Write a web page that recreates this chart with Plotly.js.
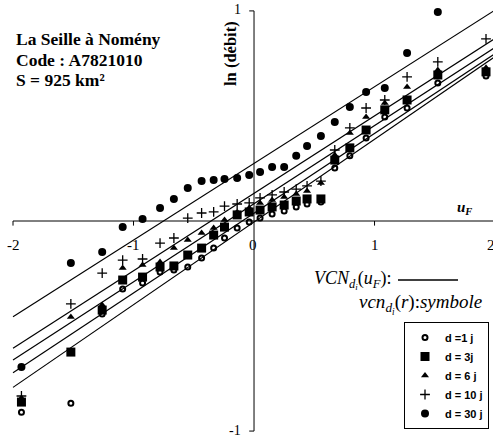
<!DOCTYPE html>
<html><head><meta charset="utf-8">
<script src="https://cdn.plot.ly/plotly-3.0.1.min.js"></script>
<style>html,body{margin:0;padding:0;background:#fff;} #chart{width:493px;height:438px;}</style>
</head><body><div id="chart"></div>
<script>
// Reduced variable u_F (x positions of the ranked sample)
const uF = [-1.93, -1.52, -1.26, -1.09, -0.925, -0.78, -0.665, -0.55, -0.435, -0.335, -0.245, -0.14, -0.04,
            0.05, 0.15, 0.25, 0.35, 0.44, 0.555, 0.67, 0.795, 0.93, 1.085, 1.27, 1.525, 1.925];
// ln(débit) observed, per duration
const vcn1  = [-0.910, -0.867, -0.443, -0.324, -0.295, -0.243, -0.233, -0.219, -0.176, -0.129, -0.081, -0.033, -0.005,
               0.014, 0.033, 0.048, 0.067, 0.081, 0.090, 0.252, 0.310, 0.395, 0.495, 0.538, 0.657, 0.690];
const vcn3  = [-0.862, -0.624, -0.424, -0.281, -0.267, -0.219, -0.214, -0.162, -0.129, -0.067, -0.029, 0.029, 0.043,
               0.052, 0.067, 0.076, 0.095, 0.105, 0.105, 0.290, 0.348, 0.433, 0.529, 0.576, 0.695, 0.710];
const vcn6  = [-0.843, -0.457, -0.400, -0.224, -0.210, -0.195, -0.129, -0.090, -0.057, -0.033, 0.005, 0.043, 0.062,
               0.086, 0.100, 0.114, 0.129, 0.143, 0.181, 0.314, 0.419, 0.495, 0.562, 0.638, 0.719, 0.729];
const vcn10 = [-0.833, -0.395, -0.248, -0.186, -0.181, -0.105, -0.081, 0.014, 0.038, 0.043, 0.071, 0.081, 0.086,
               0.110, 0.124, 0.138, 0.152, 0.167, 0.190, 0.338, 0.443, 0.538, 0.576, 0.686, 0.757, 0.867];
const vcn30 = [-0.695, -0.200, -0.148, -0.029, 0.010, 0.062, 0.105, 0.157, 0.190, 0.195, 0.200, 0.205, 0.219,
               0.233, 0.257, 0.257, 0.310, 0.357, 0.405, 0.471, 0.543, 0.614, 0.633, 0.800, 0.995, 1.120];
const seriesNames = ["d =1 j", "d = 3j", "d = 6 j", "d = 10 j", "d = 30 j"];
const seriesValues = [vcn1, vcn3, vcn6, vcn10, vcn30];
// Fitted lines VCN_di(u_F): values at u_F = -2 and u_F = 2
const lineX = [-2, 2];
const lineAtLeft  = [-0.792, -0.722, -0.662, -0.606, -0.456];
const lineAtRight = [0.783, 0.797, 0.826, 0.869, 1.004];
const xTickVals = [-2, -1, 0, 1, 2];
const xTickText = ["-2", "-1", "0", "1", "2"];
const yTickVals = [-1, 1];
const yTickText = ["-1", "1"];

const xRange = [-2.108, 1.983];
const yRange = [-1.033, 1.052];

const markerStyles = [
  {symbol: 'circle-open', size: 5, color: '#000', line: {color: '#000', width: 2}},
  {symbol: 'square', size: 9, color: '#000'},
  {symbol: 'triangle-up', size: 7, color: '#000'},
  {symbol: 'cross-thin', size: 7, color: '#000', line: {color: '#000', width: 1.3}},
  {symbol: 'circle', size: 8, color: '#000'}
];

const traces = [];
for (let i = 0; i < lineAtLeft.length; i++) {
  traces.push({x: lineX, y: [lineAtLeft[i], lineAtRight[i]], mode: 'lines',
    line: {color: '#000', width: 1.2}, showlegend: false, hoverinfo: 'skip'});
}
for (let i = 0; i < seriesNames.length; i++) {
  traces.push({x: uF, y: seriesValues[i], mode: 'markers', name: seriesNames[i],
    marker: markerStyles[i]});
}

const serif = 'Liberation Serif, Times New Roman, serif';
const shapes = [
  {type: 'line', xref: 'x', yref: 'y', x0: -2, x1: 2.1, y0: 0, y1: 0, line: {color: '#000', width: 1}},
  {type: 'line', xref: 'x', yref: 'y', x0: 0, x1: 0, y0: -1, y1: 1, line: {color: '#000', width: 1}},
  // sample line for VCN
  {type: 'line', xref: 'paper', yref: 'paper', x0: 398/493, x1: 458/493, y0: 1-280/438, y1: 1-280/438, line: {color: '#000', width: 1.5}}
];
xTickVals.forEach(v => { if (v !== 0) shapes.push({type: 'line', xref: 'x', yref: 'y', x0: v, x1: v, y0: 0, y1: -0.022, line: {color: '#000', width: 1}}); });
yTickVals.forEach(v => shapes.push({type: 'line', xref: 'x', yref: 'y', x0: 0, x1: -0.04, y0: v, y1: v, line: {color: '#000', width: 1}}));

const toPaperX = v => (v - xRange[0]) / (xRange[1] - xRange[0]);
const toPaperY = v => (v - yRange[0]) / (yRange[1] - yRange[0]);

const annotations = [];
xTickVals.forEach((v, i) => annotations.push({x: toPaperX(v), y: toPaperY(0), xref: 'paper', yref: 'paper', text: xTickText[i], showarrow: false,
  xanchor: 'center', yanchor: 'middle', yshift: -24, xshift: v === 0 ? -1 : (v === 2 ? -4 : 0), font: {family: serif, size: 15, color: '#000'}}));
yTickVals.forEach((v, i) => annotations.push({x: toPaperX(0), y: toPaperY(v), xref: 'paper', yref: 'paper', text: yTickText[i], showarrow: false,
  xanchor: 'right', yanchor: 'middle', xshift: -11, yshift: 1, font: {family: serif, size: 14, color: '#000'}}));
annotations.push(
  {xref: 'paper', yref: 'paper', x: 14/493, y: 1-39/438, text: '<b>La Seille à Nomény</b>', showarrow: false, xanchor: 'left', yanchor: 'middle', font: {family: serif, size: 17.5, color: '#000'}},
  {xref: 'paper', yref: 'paper', x: 14/493, y: 1-60/438, text: '<b>Code : A7821010</b>', showarrow: false, xanchor: 'left', yanchor: 'middle', font: {family: serif, size: 17.5, color: '#000'}},
  {xref: 'paper', yref: 'paper', x: 14/493, y: 1-80/438, text: '<b>S = 925 km²</b>', showarrow: false, xanchor: 'left', yanchor: 'middle', font: {family: serif, size: 17.5, color: '#000'}},
  {xref: 'paper', yref: 'paper', x: 230/493, y: 1-54/438, text: '<b>ln (débit)</b>', textangle: -90, showarrow: false, xanchor: 'center', yanchor: 'middle', font: {family: serif, size: 16.5, color: '#000'}},
  {xref: 'paper', yref: 'paper', x: 455/493, y: 1-208/438, text: '<b><i>u<sub>F</sub></i></b>', showarrow: false, xanchor: 'left', yanchor: 'middle', font: {family: serif, size: 15, color: '#000'}},
  {xref: 'paper', yref: 'paper', x: 393/493, y: 1-280/438, text: '<i>VCN<sub>d<sub>i</sub></sub></i>(<i>u<sub>F</sub></i>):', showarrow: false, xanchor: 'right', yanchor: 'middle', font: {family: serif, size: 18, color: '#000'}},
  {xref: 'paper', yref: 'paper', x: 484/493, y: 1-304/438, text: '<i>vcn<sub>d<sub>i</sub></sub></i>(<i>r</i>):<i>symbole</i>', showarrow: false, xanchor: 'right', yanchor: 'middle', font: {family: serif, size: 19, color: '#000'}}
);

const layout = {
  width: 493, height: 438,
  margin: {l: 0, r: 0, t: 0, b: 0, pad: 0},
  paper_bgcolor: '#fff', plot_bgcolor: '#fff',
  xaxis: {range: xRange, visible: false, fixedrange: true},
  yaxis: {range: yRange, visible: false, fixedrange: true},
  showlegend: true,
  legend: {x: 404/493, y: 1-322/438, xanchor: 'left', yanchor: 'top', bgcolor: '#fff', bordercolor: '#000', borderwidth: 1,
    font: {family: 'Liberation Sans, Arial, sans-serif', size: 11, color: '#000', weight: 'bold'}, itemwidth: 30, tracegroupgap: 0},
  shapes: shapes,
  annotations: annotations
};
Plotly.newPlot('chart', traces, layout, {displayModeBar: false, staticPlot: true});
</script>
</body></html>
